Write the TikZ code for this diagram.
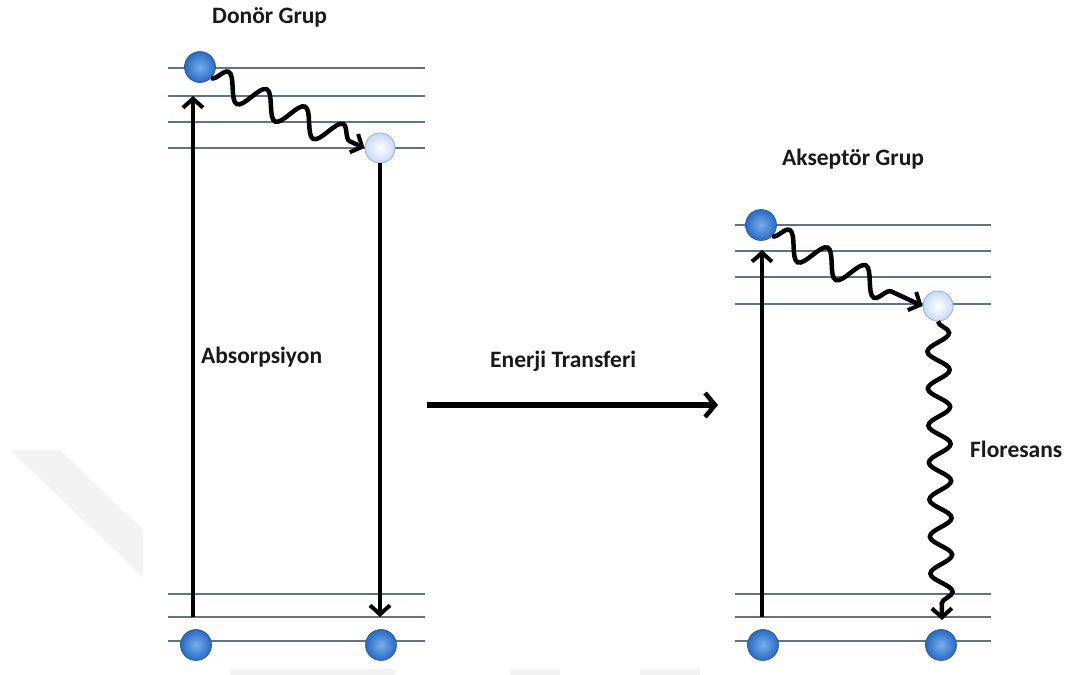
\documentclass[tikz,border=0pt]{standalone}
\usepackage{fontspec}
\setmainfont{Carlito}
\usetikzlibrary{arrows.meta,decorations.pathmorphing,shadings}
\definecolor{levelc}{RGB}{98,114,136}
\definecolor{ballhi}{RGB}{120,175,235}
\definecolor{balldark}{RGB}{40,105,195}
\definecolor{balledgec}{RGB}{35,85,160}
\definecolor{balllight}{RGB}{200,218,245}
\definecolor{balledge}{RGB}{145,175,220}
\definecolor{markc}{RGB}{243,243,243}
\tikzset{
  level/.style={draw=levelc, line width=1.1pt},
  ball/.style={circle, minimum size=31pt, inner sep=0pt, draw=balledgec, line width=0.6pt,
    inner color=ballhi, outer color=balldark},
  lightball/.style={circle, minimum size=30pt, inner sep=0pt, draw=balledge, line width=0.8pt,
    inner color=white, outer color=balllight},
  tip/.style={-{Straight Barb[length=9pt,width=20pt,line width=4pt]}},
  transition/.style={line width=4.5pt, tip},
  wavy/.style={line width=4.5pt, tip,
    decorate, decoration={snake, amplitude=13pt, segment length=#1, post length=16pt}},
  label/.style={font=\bfseries\fontsize{23.5}{28}\selectfont, inner sep=0pt, text=black!90}
}
\begin{document}
\begin{tikzpicture}[x=1pt,y=-1pt]
\useasboundingbox (0,0) rectangle (1072,675);
\fill[white] (0,0) rectangle (1072,675);

% faint background mark
\fill[markc] (10,450) -- (60,450) -- (143,530) -- (143,577) -- cycle;
\fill[markc] (230,669) rectangle (395,675);
\fill[markc] (510,669) rectangle (560,675);
\fill[markc] (640,669) rectangle (700,675);

% energy levels, donor group
\foreach \y in {68,96,122,148,594,617,641}
  \draw[level] (168,\y) -- (425,\y);
% energy levels, acceptor group
\foreach \y in {225,251,277,304,594,617,641}
  \draw[level] (735,\y) -- (991,\y);

% electrons, donor group
\node[ball] (d0) at (200,67) {};
\node[lightball] (d1) at (380,148) {};
\node[ball] (dg1) at (196,645) {};
\node[ball] (dg2) at (381,645) {};

% electrons, acceptor group
\node[ball] (a0) at (761,225) {};
\node[lightball] (a1) at (938,306) {};
\node[ball] (ag1) at (763,645) {};
\node[ball] (ag2) at (941,645) {};

% free ends of the straight transitions
\coordinate (absS) at (193,617);
\coordinate (absE) at (193,96);
\coordinate (emE) at (380,617);
\coordinate (aabsS) at (762,617);
\coordinate (aabsE) at (762,250);
\coordinate (fluE) at (942,620);
\coordinate (etS) at (427,405);
\coordinate (etE) at (718,405);

% transitions
\draw[transition] (absS) -- (absE);
\draw[transition] (d1.south) -- (emE);
\draw[transition] (aabsS) -- (aabsE);
\draw[transition, line width=5.5pt, -{Straight Barb[length=10pt,width=24pt,line width=4.5pt]}] (etS) -- (etE);

% vibrational relaxation and fluorescence
\draw[wavy=42pt] (d0.south east) -- (d1.west);
\draw[wavy=42pt] (a0.south east) -- (a1.west);
\draw[wavy=37pt, decoration={amplitude=11pt}] (a1.south) -- (fluE);

% labels
\node[label, anchor=base west] (tdon) at (212,23) {Donör Grup};
\node[label, anchor=base west] (tacc) at (782,165) {Akseptör Grup};
\node[label, anchor=base west] (tabs) at (201,363) {Absorpsiyon};
\node[label, anchor=base west] (tet) at (490,367) {Enerji Transferi};
\node[label, anchor=base west] (tflu) at (970,457) {Floresans};
\end{tikzpicture}
\end{document}
